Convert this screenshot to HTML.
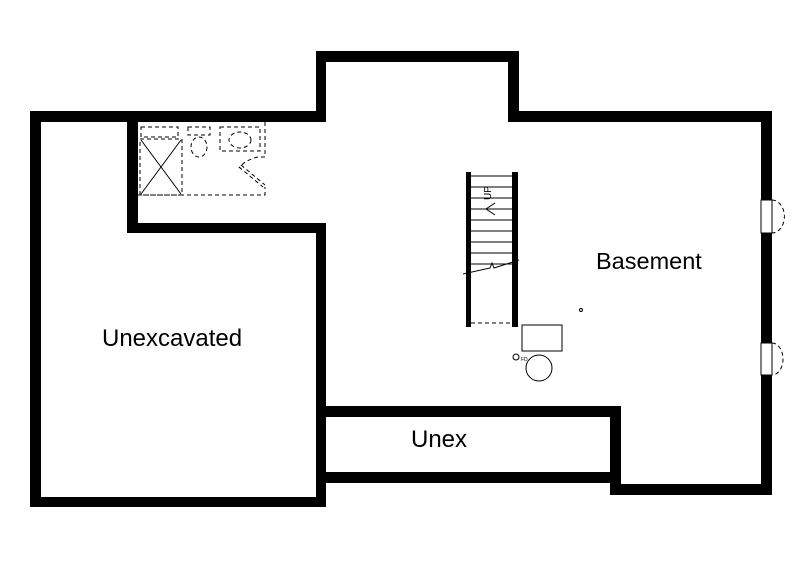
<!DOCTYPE html>
<html><head><style>body{margin:0;background:#fff}svg{display:block}</style></head><body>
<svg width="798" height="573" viewBox="0 0 798 573" xmlns="http://www.w3.org/2000/svg">
<rect width="798" height="573" fill="#fff"/>
<g fill="#000">
<rect x="30" y="111" width="11" height="396"/>
<rect x="30" y="111" width="296" height="11"/>
<rect x="316" y="51" width="10" height="71"/>
<rect x="316" y="51" width="203" height="11"/>
<rect x="508" y="51" width="11" height="71"/>
<rect x="508" y="111" width="264" height="11"/>
<rect x="761" y="111" width="11" height="384"/>
<rect x="127" y="111" width="11" height="122"/>
<rect x="127" y="223" width="199" height="10"/>
<rect x="316" y="223" width="10" height="284"/>
<rect x="30" y="497" width="296" height="10"/>
<rect x="318" y="406" width="303" height="11"/>
<rect x="318" y="472" width="294" height="11"/>
<rect x="610" y="406" width="11" height="89"/>
<rect x="610" y="484" width="162" height="11"/>
<rect x="466" y="172" width="5" height="155"/>
<rect x="512" y="172" width="6" height="155"/>
</g>
<rect x="761" y="200" width="11" height="33" fill="#fff" stroke="#000" stroke-width="1"/>
<rect x="761" y="343" width="11" height="32" fill="#fff" stroke="#000" stroke-width="1"/>
<g fill="none" stroke="#000" stroke-width="1" stroke-dasharray="4,3">
<path d="M772 200 A12 16 0 0 1 772 233"/>
<path d="M772 343 A11 16 0 0 1 772 375"/>
<path d="M138 195 L265 195 L265 187"/>
<path d="M265 122 L265 157 L258 157"/>
<rect x="141" y="127" width="37" height="10"/>
<rect x="140" y="139" width="42" height="56"/>
<rect x="188" y="127" width="22" height="8"/>
<ellipse cx="199" cy="147" rx="8" ry="10"/>
<rect x="220" y="127" width="40" height="24"/>
<ellipse cx="240" cy="140" rx="11" ry="8"/>
<path d="M258 157 Q245 160 239 168"/>
<path d="M471 323 L512 323"/>
<path d="M239 167 L263 187 M241 165 L265 185"/>
</g>
<g stroke="#000" stroke-width="1" fill="none">
<path d="M141 140 L181 194 M181 140 L141 194"/>
<path d="M471 176 H512 M471 187 H512 M471 198 H512 M471 209 H512 M471 220 H512 M471 231 H512 M471 242 H512 M471 253 H512 M471 264 H512"/>
<path d="M463 274 L490 268 L492 263 L494 268 L519 260"/>
<path d="M495 203 L486 209 L495 215 M486 209 H500"/>
<rect x="522" y="325" width="40" height="26"/>
<circle cx="539" cy="368" r="13"/>
<circle cx="516" cy="357" r="3"/>
<circle cx="581" cy="310" r="1.5"/>
</g>
<text x="0" y="0" transform="translate(491,200) rotate(-90)" font-family="Liberation Sans, sans-serif" font-size="10">UP</text>
<text x="521" y="361" font-family="Liberation Sans, sans-serif" font-size="5">FD</text>
<g font-family="Liberation Sans, sans-serif" font-size="24" fill="#000">
<text x="596" y="269" font-size="23.5">Basement</text>
<text x="102" y="346">Unexcavated</text>
<text x="411" y="447">Unex</text>
</g>
</svg>
</body></html>
